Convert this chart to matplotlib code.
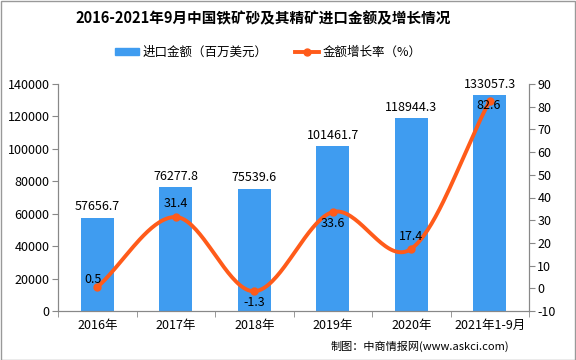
import numpy as np
import matplotlib
matplotlib.use("Agg")
import matplotlib.pyplot as plt
from matplotlib.lines import Line2D
from matplotlib.patches import Patch

plt.rcParams['font.family'] = ['Noto Sans CJK SC', 'DejaVu Sans']

categories = ["2016年", "2017年", "2018年", "2019年", "2020年", "2021年1-9月"]
amount = [57656.7, 76277.8, 75539.6, 101461.7, 118944.3, 133057.3]
growth = [0.5, 31.4, -1.3, 33.6, 17.4, 82.6]
left_ticks = [0, 20000, 40000, 60000, 80000, 100000, 120000, 140000]
right_ticks = [-10, 0, 10, 20, 30, 40, 50, 60, 70, 80, 90]

bar_color = "#3F9CF0"
line_color = "#FF5B1A"

fig = plt.figure(figsize=(5.76, 3.6), dpi=100)
ax = fig.add_axes([58/576, 1-311/360, (529-58)/576, (311-84)/360])
ax2 = ax.twinx()

x = np.arange(len(categories))
ax.bar(x, amount, width=0.42, color=bar_color, zorder=2)
ax.set_xlim(-0.5, len(categories)-0.5)
ax.set_ylim(0, 140000)
ax.set_yticks(left_ticks)
ax.set_yticklabels([str(t) for t in left_ticks], fontsize=9)
ax.set_xticks(x)
ax.set_xticklabels(categories, fontsize=9)
ax.set_xticks(np.arange(len(categories)+1)-0.5, minor=True)
ax.tick_params(axis='x', which='major', length=0, pad=6)
ax.tick_params(axis='x', which='minor', length=4, color='#888888')
ax.tick_params(axis='y', length=4, color='#888888', pad=2)

for xi, v in zip(x, amount):
    ax.text(xi, v + 2500, f"{v:.1f}", ha='center', va='bottom', fontsize=9)

# Smooth curve (Catmull-Rom) through growth points
def catmull_rom(xs, ys, n=40):
    xs = np.asarray(xs, float); ys = np.asarray(ys, float)
    px = np.concatenate([[2*xs[0]-xs[1]], xs, [2*xs[-1]-xs[-2]]])
    py = np.concatenate([[2*ys[0]-ys[1]], ys, [2*ys[-1]-ys[-2]]])
    outx, outy = [], []
    for i in range(1, len(px)-2):
        t = np.linspace(0, 1, n)
        for arr, out in ((px, outx), (py, outy)):
            p0, p1, p2, p3 = arr[i-1], arr[i], arr[i+1], arr[i+2]
            out.extend(0.5*((2*p1) + (-p0+p2)*t + (2*p0-5*p1+4*p2-p3)*t**2 + (-p0+3*p1-3*p2+p3)*t**3))
    return np.array(outx), np.array(outy)

sx, sy = catmull_rom(x, growth)
ax2.plot(sx, sy, color=line_color, lw=2.8, zorder=3)
ax2.plot(x, growth, 'o', color=line_color, ms=5, zorder=4)
ax2.set_ylim(-10, 90)
ax2.set_yticks(right_ticks)
ax2.set_yticklabels([str(t) for t in right_ticks], fontsize=9)
ax2.tick_params(axis='y', length=4, color='#888888', pad=2)

offsets = [(-0.05, 3.2), (0, 6.0), (0, -5.0), (0, -5.0), (0, 5.3), (-0.02, -2.0)]
for xi, v, (dx, dy) in zip(x, growth, offsets):
    ax2.text(xi+dx, v+dy, f"{v}", ha='center', va='center', fontsize=9, zorder=5)

for a in (ax, ax2):
    a.spines['top'].set_visible(False)
    for s in ('left', 'right', 'bottom'):
        a.spines[s].set_color('#888888')
ax.set_zorder(ax2.get_zorder()-1)
ax.patch.set_visible(True)
ax2.patch.set_visible(False)

fig.text(263/576, 1-18/360, "2016-2021年9月中国铁矿砂及其精矿进口金额及增长情况", ha='center', va='center',
         fontsize=10.5, fontweight='bold')

handles = [Patch(color=bar_color), Line2D([0], [0], color=line_color, lw=2.8, marker='o', ms=5)]
fig.legend(handles, ["进口金额（百万美元）", "金额增长率（%）"], loc='center', bbox_to_anchor=(268/576, 1-52/360),
           ncol=2, frameon=False, fontsize=9, handlelength=1.9, columnspacing=2.2, handletextpad=0.3,
           handleheight=0.5)

fig.text(509/576, 1-346/360, "制图：中商情报网(www.askci.com)", ha='right', va='center', fontsize=8)

border = plt.Rectangle((0.001, 0.001), 0.997, 0.997, transform=fig.transFigure, fill=False, ec='#999999', lw=1)
fig.patches.append(border)

fig.savefig("out.png", dpi=100)
